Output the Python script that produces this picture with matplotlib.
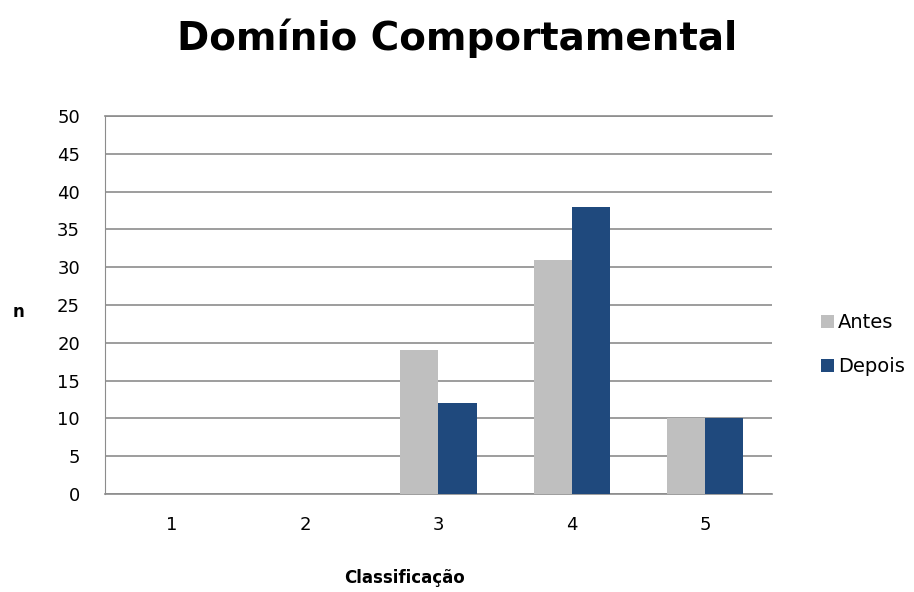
import numpy as np
import matplotlib.pyplot as plt

categorias = ['1', '2', '3', '4', '5']
antes = [0, 0, 19, 31, 10]
depois = [0, 0, 12, 38, 10]

cor_antes = '#BFBFBF'
cor_depois = '#1F497D'

plt.rcParams['font.family'] = ['DejaVu Sans']

fig = plt.figure(figsize=(9.14, 5.92), dpi=100)
ax = fig.add_axes([0.1149, 0.1655, 0.7297, 0.6385])

x = np.arange(1, len(categorias) + 1)
w = 0.285
ax.bar(x - w / 2, antes, width=w, color=cor_antes, label='Antes', zorder=3)
ax.bar(x + w / 2, depois, width=w, color=cor_depois, label='Depois', zorder=3)

ax.set_xlim(0.5, 5.5)
ax.set_ylim(0, 50)
ax.set_yticks(np.arange(0, 51, 5))
ax.set_xticks(x)
ax.set_xticklabels(categorias)
ax.tick_params(axis='both', length=0, labelsize=13)
ax.tick_params(axis='y', pad=18)
ax.tick_params(axis='x', pad=16)
ax.yaxis.grid(True, color='#8c8c8c', linewidth=1.2, zorder=0)
for s in ['top', 'right']:
    ax.spines[s].set_visible(False)
ax.spines['left'].set_color('#8c8c8c')
ax.spines['bottom'].set_color('#8c8c8c')
ax.spines['bottom'].set_linewidth(1.2)
ax.axhline(50, color='#8c8c8c', linewidth=1.2, clip_on=False, zorder=0)

fig.text(0.5, 0.935, 'Domínio Comportamental', ha='center', va='center',
         fontsize=28, fontweight='bold')
fig.text(0.02, 0.473, 'n', ha='center', va='center', fontsize=12, fontweight='bold')
fig.text(0.443, 0.024, 'Classificação', ha='center', va='center',
         fontsize=12, fontweight='bold')

fig.legend(loc='center left', bbox_to_anchor=(0.89, 0.418), frameon=False,
           fontsize=14, handlelength=0.65, handleheight=0.65, handletextpad=0.2,
           labelspacing=1.3, borderaxespad=0)

fig.savefig('out.png', dpi=100)
